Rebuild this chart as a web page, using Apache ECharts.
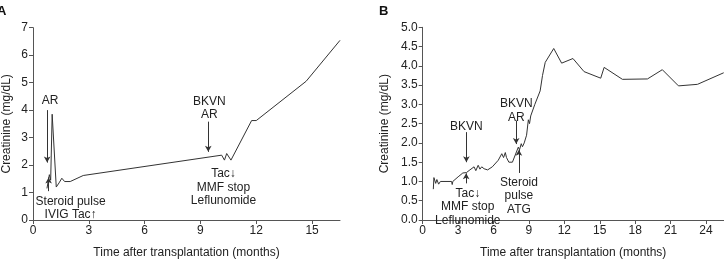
<!DOCTYPE html>
<html>
<head>
<meta charset="utf-8">
<script src="https://cdn.jsdelivr.net/npm/echarts@6/dist/echarts.min.js"></script>
<style>
  html, body { margin: 0; padding: 0; background: #fff; }
  #chart { width: 724px; height: 264px; }
</style>
</head>
<body>
<div id="chart"></div>
<script>
// panel A : months after transplantation / creatinine
var monthsA = [0.75, 0.88, 0.95, 1.03, 1.25, 1.4, 1.55, 1.7, 2.0, 2.7, 10.14, 10.29, 10.41, 10.64, 11.75, 12.0, 14.68, 16.5];
var creatA  = [1.15, 1.65, 1.45, 3.85, 1.2, 1.35, 1.52, 1.4, 1.4, 1.62, 2.36, 2.18, 2.42, 2.18, 3.62, 3.62, 5.05, 6.54];

// panel B
var monthsB = [0.9, 0.95, 1.1, 1.2, 1.35, 1.5, 2.45, 2.5, 2.55, 3.0, 3.4, 3.7, 4.0, 4.15, 4.35, 4.5, 4.7, 4.85, 5.0, 5.2, 5.5, 5.9, 6.4, 6.7, 6.85, 7.0, 7.1, 7.3, 7.6, 8.1, 8.2, 8.35, 8.45, 8.6, 8.8, 8.95, 9.05, 9.15, 9.5, 9.95, 10.0, 10.15, 10.2, 10.38, 11.1, 11.77, 12.73, 13.67, 15.08, 15.37, 16.92, 19.04, 20.3, 21.67, 23.28, 25.5];
var creatB  = [0.8, 1.1, 0.95, 1.05, 0.93, 1.0, 1.0, 0.92, 1.0, 1.12, 1.22, 1.23, 1.3, 1.25, 1.38, 1.28, 1.42, 1.32, 1.38, 1.33, 1.3, 1.38, 1.55, 1.72, 1.62, 1.75, 1.62, 1.5, 1.5, 1.89, 1.82, 1.98, 1.9, 2.0, 2.2, 2.6, 2.5, 2.7, 3.0, 3.35, 3.3, 3.75, 3.7, 4.09, 4.45, 4.07, 4.19, 3.85, 3.68, 3.96, 3.65, 3.66, 3.9, 3.48, 3.52, 3.82];

// annotations (data coordinates)
var notesA  = ['AR', 'Steroid pulse\nIVIG Tac\u2191', 'BKVN\nAR', 'Tac\u2193\nMMF stop\nLeflunomide'];
var noteAtA = [[0.92, 4.33], [2.02, 0.44], [9.48, 4.06], [10.24, 1.19]];
var arrowsA = [[0.76, 4.0, 2.09], [0.84, 1.05, 1.55], [9.42, 3.58, 2.48]];   // x, from, to

var notesB  = ['BKVN', 'Tac\u2193\nMMF stop\nLeflunomide', 'BKVN\nAR', 'Steroid\npulse\nATG'];
var noteAtB = [[3.7, 2.42], [3.82, 0.34], [7.93, 2.84], [8.15, 0.62]];
var arrowsB = [[3.7, 2.28, 1.5], [3.68, 0.95, 1.21], [7.92, 2.58, 1.97], [8.15, 1.22, 1.82]];

var txt = '#222';
var font = 'Liberation Sans, Arial, sans-serif';

function zip(xs, ys) {
    return xs.map(function (x, i) { return [x, ys[i]]; });
}
function noteData(names, at) {
    return names.map(function (n, i) { return { name: n, coord: at[i] }; });
}
function arrowData(arr) {
    return arr.map(function (a) { return [{ coord: [a[0], a[1]] }, { coord: [a[0], a[2]] }]; });
}

var myChart = echarts.init(document.getElementById('chart'));

function xAx(idx, max) {
    return {
        type: 'value', gridIndex: idx, min: 0, max: max, interval: 3,
        name: 'Time after transplantation (months)', nameLocation: 'middle', nameGap: 27,
        nameTextStyle: { color: txt, fontSize: 12, fontFamily: font },
        splitLine: { show: false },
        axisLine: { lineStyle: { color: '#555', width: 1 } },
        axisTick: { length: 4, lineStyle: { color: '#555' } },
        axisLabel: { color: txt, fontSize: 12, fontFamily: font, margin: 5, showMaxLabel: false }
    };
}
function yAx(idx, max, step, gap, fmt) {
    return {
        type: 'value', gridIndex: idx, min: 0, max: max, interval: step,
        name: 'Creatinine (mg/dL)', nameLocation: 'middle', nameGap: gap, nameRotate: 90,
        nameTextStyle: { color: txt, fontSize: 12, fontFamily: font },
        splitLine: { show: false },
        axisLine: { show: true, lineStyle: { color: '#555', width: 1 } },
        axisTick: { show: true, length: 4, lineStyle: { color: '#555' } },
        axisLabel: { color: txt, fontSize: 12, fontFamily: font, margin: 5, formatter: fmt }
    };
}
function lineSeries(idx, data, notes, arrows) {
    return {
        type: 'line', xAxisIndex: idx, yAxisIndex: idx, data: data,
        symbol: 'none', smooth: false, animation: false,
        lineStyle: { color: '#333', width: 1 },
        markLine: {
            silent: true, animation: false,
            symbol: ['none', 'arrow'], symbolSize: [5, 6],
            lineStyle: { color: '#333', width: 1, type: 'solid' },
            label: { show: false },
            data: arrows
        },
        markPoint: {
            silent: true, animation: false,
            symbol: 'circle', symbolSize: 0,
            label: {
                show: true, position: 'inside', formatter: '{b}',
                color: txt, fontSize: 12, fontFamily: font, lineHeight: 13.4
            },
            data: notes
        }
    };
}

var option = {
    backgroundColor: '#fff',
    animation: false,
    grid: [
        { left: 30, top: 27.7, width: 310, height: 197 },
        { left: 422.7, top: 27.3, width: 301, height: 197.4 }
    ],
    graphic: [
        { type: 'text', left: -3, top: 5, style: { text: 'A', fill: '#111', font: 'bold 13px ' + font } },
        { type: 'text', left: 379, top: 5, style: { text: 'B', fill: '#111', font: 'bold 13px ' + font } }
    ],
    xAxis: [xAx(0, 16.5), xAx(1, 25.5)],
    yAxis: [
        yAx(0, 7, 1, 20, function (v) { return v; }),
        yAx(1, 5, 0.5, 32, function (v) { return v.toFixed(1); })
    ],
    series: [
        lineSeries(0, zip(monthsA, creatA), noteData(notesA, noteAtA), arrowData(arrowsA)),
        lineSeries(1, zip(monthsB, creatB), noteData(notesB, noteAtB), arrowData(arrowsB))
    ]
};

myChart.setOption(option);
</script>
</body>
</html>
